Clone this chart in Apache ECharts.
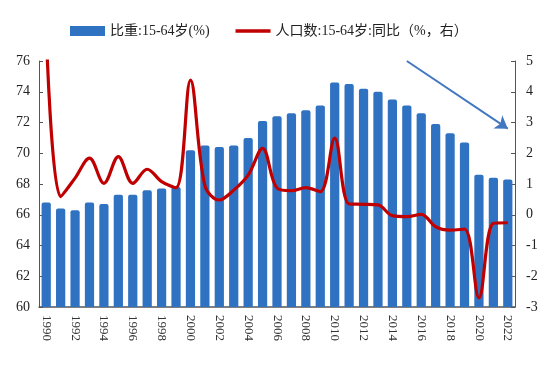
<!DOCTYPE html>
<html>
<head>
<meta charset="utf-8">
<script src="https://cdn.jsdelivr.net/npm/echarts@6/dist/echarts.min.js"></script>
<style>html,body{margin:0;padding:0;background:#fff;}#c{width:542px;height:373px;}</style>
</head>
<body>
<div id="c"></div>
<script>
var years = ['1990','1991','1992','1993','1994','1995','1996','1997','1998','1999','2000','2001','2002','2003','2004','2005','2006','2007','2008','2009','2010','2011','2012','2013','2014','2015','2016','2017','2018','2019','2020','2021','2022'];
var shareValues = [66.8,66.4,66.3,66.8,66.7,67.3,67.3,67.6,67.7,67.8,70.2,70.5,70.4,70.5,71.0,72.1,72.4,72.6,72.8,73.1,74.6,74.5,74.2,74.0,73.5,73.1,72.6,71.9,71.3,70.7,68.6,68.4,68.3];
var growthValues = [6.0,0.59,1.19,1.84,1.02,1.89,1.02,1.48,1.08,0.88,4.38,0.95,0.48,0.80,1.29,2.16,0.87,0.78,0.88,0.75,2.49,0.35,0.34,0.32,-0.03,-0.06,0.01,-0.39,-0.50,-0.47,-2.70,-0.28,-0.26];
var seriesNames = ['比重:15-64岁(%)', '人口数:15-64岁:同比（%，右）'];
var arrowFrom = ['2015', 76];
var arrowTo = ['2022', 71.6];

var font = "'Liberation Serif','Noto Sans CJK SC',serif";
var chart = echarts.init(document.getElementById('c'), null, {renderer:'canvas'});
chart.setOption({
  animation: false,
  textStyle: {fontFamily: font},
  legend: {
    top: 19, left: 65,
    itemWidth: 35, itemHeight: 10, itemGap: 26,
    textStyle: {fontFamily: font, fontSize: 14, color: '#222'},
    data: [
      {name: seriesNames[0], icon: 'rect'},
      {name: seriesNames[1], icon: 'path://M0,0 L10,0 L10,1 L0,1 Z'}
    ]
  },
  grid: {left: 39, right: 27, top: 61, bottom: 66},
  xAxis: {
    type: 'category', data: years, boundaryGap: true,
    axisLine: {onZero: false, lineStyle: {color: '#555', width: 1.5}},
    axisTick: {inside: true, interval: 1, length: 3, lineStyle: {color: '#555'}},
    axisLabel: {interval: 1, rotate: -90, fontSize: 13, color: '#333', fontFamily: font, margin: 8}
  },
  yAxis: [
    {type: 'value', min: 60, max: 76, interval: 2,
     splitLine: {show: false},
     axisLine: {show: true, lineStyle: {color: '#555'}},
     axisTick: {show: true, inside: true, length: 4, lineStyle: {color: '#555'}},
     axisLabel: {fontSize: 14, color: '#222', fontFamily: font, margin: 9}},
    {type: 'value', min: -3, max: 5, interval: 1,
     splitLine: {show: false},
     axisLine: {show: true, lineStyle: {color: '#555'}},
     axisTick: {show: true, inside: true, length: 4, lineStyle: {color: '#555'}},
     axisLabel: {fontSize: 14, color: '#222', fontFamily: font, margin: 11}}
  ],
  series: [
    {name: seriesNames[0], type: 'bar', data: shareValues, yAxisIndex: 0,
     barCategoryGap: '36%',
     itemStyle: {color: '#2F72C2', borderRadius: [2,2,0,0]},
     markLine: {
       silent: true, symbol: ['none', 'arrow'], symbolSize: 12,
       label: {show: false},
       lineStyle: {color: '#4178C0', width: 2, type: 'solid'},
       data: [[{coord: arrowFrom}, {coord: arrowTo}]]
     }},
    {name: seriesNames[1], type: 'line', data: growthValues, yAxisIndex: 1,
     smooth: 0.35, symbol: 'none', clip: true,
     lineStyle: {color: '#C00000', width: 3.2},
     itemStyle: {color: '#C00000'}, z: 5}
  ]
});
</script>
</body>
</html>
